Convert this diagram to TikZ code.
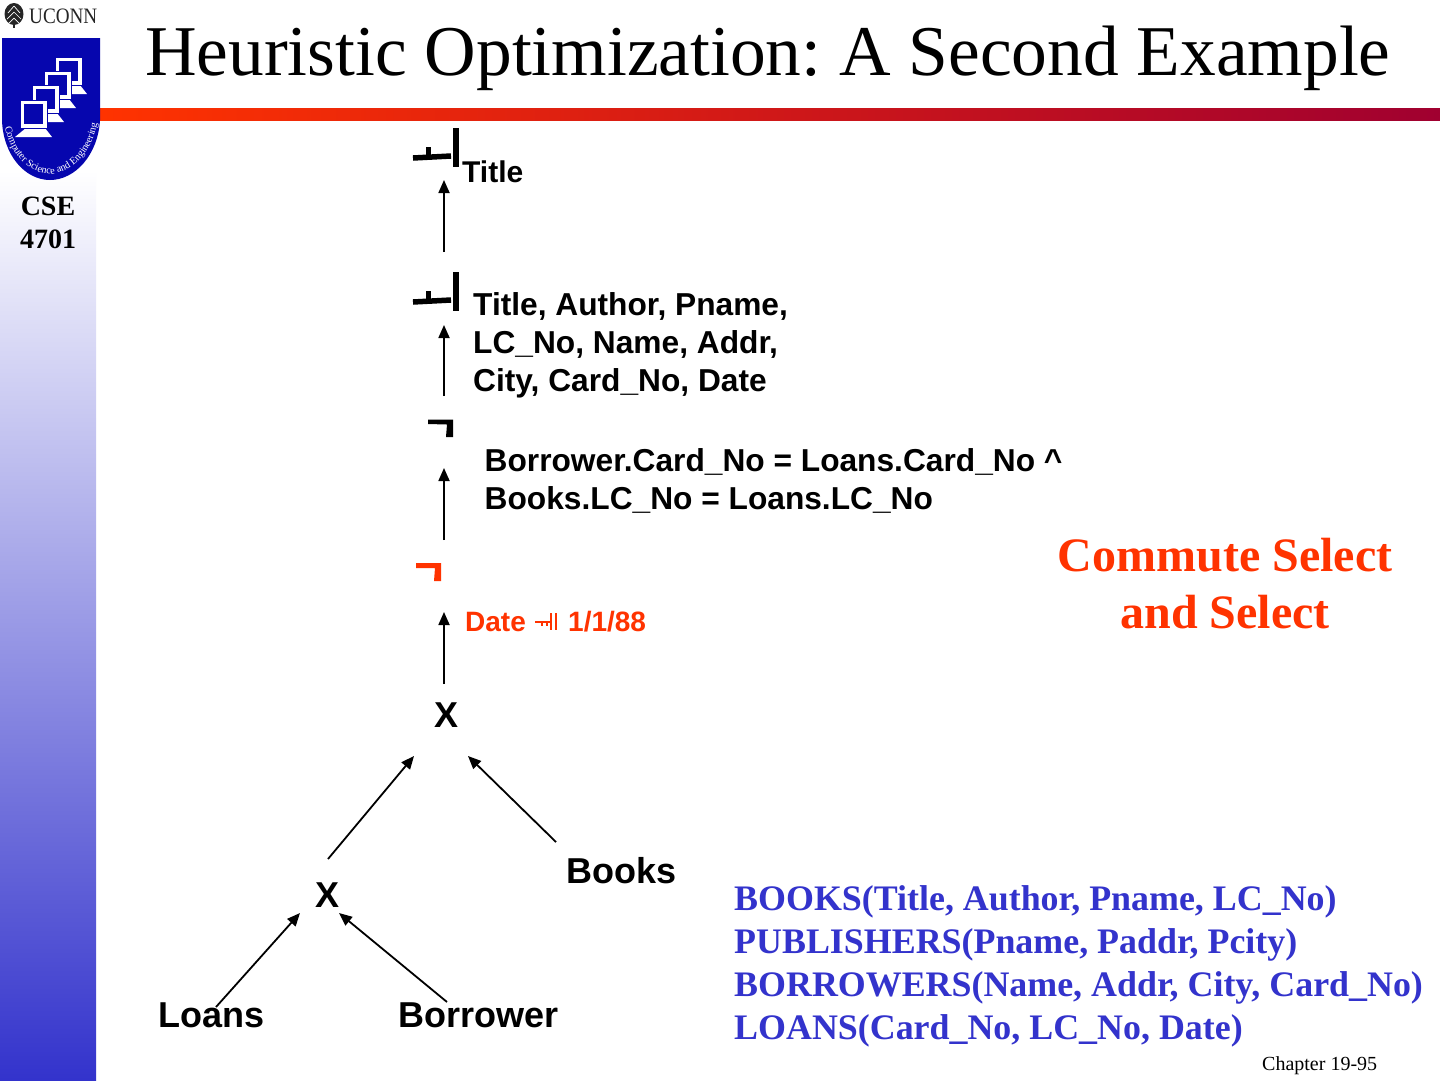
\documentclass[tikz,border=0pt]{standalone}
\usepackage{fontspec}
\setmainfont{Liberation Serif}
\setsansfont{Liberation Sans}
\usetikzlibrary{arrows.meta,decorations.text,shapes.geometric}
\frenchspacing
\definecolor{rd}{HTML}{FF3300}
\definecolor{bl}{HTML}{3333CC}
\definecolor{dkred}{HTML}{A00030}
\definecolor{midred}{HTML}{D01818}
\definecolor{shield}{HTML}{0606AE}
\tikzset{
 x=1pt,y=-1pt,
 lab/.style={font=\sffamily\bfseries\fontsize{#1}{38}\selectfont,inner sep=0,anchor=base west,align=left},
 ser/.style={font=\bfseries\fontsize{#1}{43}\selectfont,inner sep=0,align=left},
 arr/.style={line width=1.8,-{Triangle[length=13pt,width=11pt]}},
 sym/.style={line width=#1,line cap=butt},
}
\newcommand{\monitor}[2]{%
 \fill[white] (#1+6,#2+28) -- (#1+25,#2+28) -- (#1+32,#2+37) -- (#1-5,#2+37) -- cycle;
 \filldraw[fill=white,draw=shield,line width=1] (#1,#2) rectangle ++(27,28);
 \fill[shield] (#1+4,#2+4) rectangle ++(19,20);
}
\begin{document}
\begin{tikzpicture}
\useasboundingbox (0,0) rectangle (1440,1080);
\fill[white] (0,0) rectangle (1440,1080);
% sidebar
\shade[top color=white,bottom color=bl] (0,170) rectangle (96,1080);
% rule
\shade[left color=rd,right color=dkred,middle color=midred] (100,108) rectangle (1440,120);
% logo
\node[font=\fontsize{22}{22}\selectfont,inner sep=0,anchor=base west,text=black!85] (uconn) at (29,23.5) {\scalebox{0.87}[1]{UCONN}};
\fill[black!85] (14,14) ellipse (9.5 and 11);
\draw[black!85,line width=1.5] (14,14) -- (14,28);
\draw[white,line width=.7] (14,6) -- (8,13) (14,6) -- (20,13) (14,12) -- (7,19) (14,12) -- (21,19) (14,18) -- (9,23) (14,18) -- (19,23);
\fill[shield] (2,38) -- (100,38) -- (100,120) .. controls (98,155) and (75,180) .. (50,180) .. controls (25,180) and (3,155) .. (2,120) -- cycle;
\monitor{55}{57}
\monitor{44}{71}
\monitor{32}{85}
\monitor{20}{100}
\path[decorate,decoration={text along path,text align=center,text={|\fontsize{10.2}{11}\selectfont\color{white}|Computer Science and Engineering}}]
 (4,122) .. controls (9,156) and (30,173) .. (50,174) .. controls (72,173) and (93,154) .. (98,118);
\node[font=\bfseries\fontsize{28}{33}\selectfont,align=center,inner sep=0,text=black] (cse) at (48,222.5) {CSE\\4701};
% title
\node[font=\fontsize{71.4}{72}\selectfont,inner sep=0,anchor=base west] (title) at (145,75) {Heuristic Optimization: A Second Example};
% symbols
\fill (453,128) rectangle (459.3,167);
\draw[sym=5.5] (413,158) -- (451,156);
\fill (425.5,147) rectangle (430.5,156);
\fill (453,272) rectangle (459.3,311);
\draw[sym=5.5] (413,302) -- (451,300);
\fill (425.5,291) rectangle (430.5,300);
\fill (428,419.5) -- (453,419.5) -- (453,437) -- (446,437) -- (447,424.5) -- (428,424) -- cycle;
\fill[rd] (416,563) -- (441,563) -- (441,581) -- (434,581) -- (435,568) -- (416,568) -- cycle;
% labels
\node[lab=30] (n1) at (462,182.5) {Title};
\node[lab=31.7,anchor=west] (n2) at (473,345) {Title, Author, Pname,\\LC\_No, Name, Addr,\\City, Card\_No, Date};
\node[lab=31.7,anchor=west] (n3) at (484.5,481) {Borrower.Card\_No = Loans.Card\_No \^{}\\Books.LC\_No = Loans.LC\_No};
\node[lab=28,text=rd] (n4) at (465,631.5) {Date};
\node[lab=28,text=rd] (n4b) at (568,631.5) {1/1/88};
\fill[rd] (535,620.5) rectangle (551,622.5);
\fill[rd] (540.5,620.5) rectangle (542.5,626);
\fill[rd] (546,620.5) rectangle (548,626);
\fill[rd] (550,613) rectangle (552,630);
\fill[rd] (555,613) rectangle (557,630);
\node[lab=36] (x1) at (434.5,727.5) {X};
\node[lab=36] (books) at (566.5,883) {Books};
\node[lab=36] (x2) at (315,907) {X};
\node[lab=36] (loans) at (158.5,1027) {Loans};
\node[lab=36] (borrower) at (398.5,1027) {Borrower};
\node[font=\bfseries\fontsize{48}{57}\selectfont,inner sep=0,text=rd,align=center] (note) at (1225,584) {Commute Select\\and Select};
\node[ser=35.9,text=bl,anchor=west] (schema) at (734,966) {BOOKS(Title, Author, Pname, LC\_No)\\PUBLISHERS(Pname, Paddr, Pcity)\\BORROWERS(Name, Addr, City, Card\_No)\\LOANS(Card\_No, LC\_No, Date)};
\node[font=\fontsize{20}{20}\selectfont,inner sep=0,anchor=base west] (chap) at (1262,1070) {Chapter 19-95};
% connectors
\coordinate (a1) at (444,252); \coordinate (b1) at (444,180);
\coordinate (a2) at (444,396); \coordinate (b2) at (444,325);
\coordinate (a3) at (444,540); \coordinate (b3) at (444,468);
\coordinate (a4) at (444,684); \coordinate (b4) at (444,612);
\coordinate (a5) at (328,859); \coordinate (b5) at (414,756);
\coordinate (a6) at (556,842); \coordinate (b6) at (468,756);
\coordinate (a7) at (216,1007); \coordinate (b7) at (300,913);
\coordinate (a8) at (447,1002); \coordinate (b8) at (339,913);
\foreach \i in {1,...,8} \draw[arr] (a\i) -- (b\i);
\end{tikzpicture}
\end{document}
